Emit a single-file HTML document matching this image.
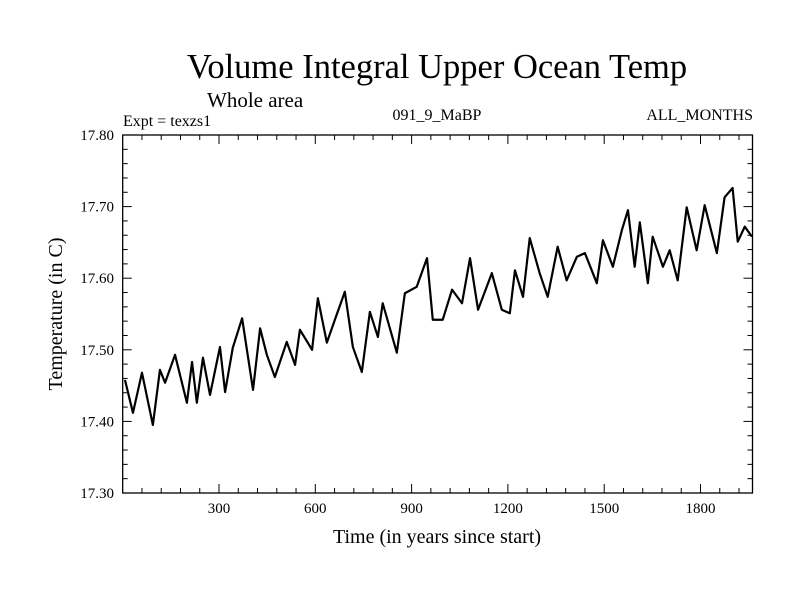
<!DOCTYPE html>
<html><head><meta charset="utf-8"><style>
body{margin:0;background:#fff}
svg text{font-family:"Liberation Serif",serif;fill:#000}
</style></head><body>
<svg id="chart" width="800" height="600">
<text x="437" y="78" font-size="34.5" text-anchor="middle">Volume Integral Upper Ocean Temp</text>
<text x="207" y="107" font-size="21">Whole area</text>
<text x="123" y="126" font-size="16">Expt = texzs1</text>
<text x="437" y="120" font-size="16" text-anchor="middle">091_9_MaBP</text>
<text x="753" y="120" font-size="16" text-anchor="end">ALL_MONTHS</text>
<text x="437" y="543" font-size="20" text-anchor="middle">Time (in years since start)</text>
<text transform="translate(62,314) rotate(-90)" font-size="20" text-anchor="middle">Temperature (in C)</text>
<g id="axes"></g>
<g id="series"></g>
</svg>
<script>
const years=[7,32,60,94,116,132,163,200,216,231,250,272,303,319,343,372,406,428,449,474,511,537,552,590,608,636,661,692,717,745,770,795,810,854,879,916,948,966,997,1026,1057,1082,1107,1150,1181,1206,1222,1247,1268,1299,1324,1355,1383,1415,1440,1477,1496,1527,1555,1574,1595,1611,1636,1651,1683,1704,1729,1757,1788,1813,1851,1875,1900,1916,1938,1960];
const temps=[17.458,17.412,17.468,17.395,17.472,17.454,17.493,17.426,17.483,17.426,17.489,17.437,17.504,17.441,17.503,17.544,17.444,17.530,17.493,17.462,17.511,17.479,17.528,17.500,17.572,17.510,17.542,17.581,17.504,17.469,17.553,17.518,17.565,17.496,17.579,17.588,17.628,17.542,17.542,17.584,17.565,17.628,17.556,17.607,17.556,17.551,17.611,17.574,17.656,17.607,17.574,17.644,17.597,17.630,17.635,17.593,17.653,17.616,17.667,17.695,17.616,17.678,17.593,17.658,17.616,17.639,17.597,17.699,17.639,17.702,17.635,17.713,17.726,17.651,17.672,17.658];
const xTicks=[300,600,900,1200,1500,1800];
const yTicks=[17.30,17.40,17.50,17.60,17.70,17.80];
const X0=122.7,X1=752.5,Y0=493,Y1=135,XMIN=0,XMAX=1962,YMIN=17.30,YMAX=17.80;
const sx=v=>X0+(v-XMIN)/(XMAX-XMIN)*(X1-X0);
const sy=v=>Y0-(v-YMIN)/(YMAX-YMIN)*(Y0-Y1);
const NS='http://www.w3.org/2000/svg';
const axes=document.getElementById('axes');
function mk(t,a,p){const e=document.createElementNS(NS,t);for(const k in a)e.setAttribute(k,a[k]);p.appendChild(e);return e;}
const frame=mk('rect',{x:X0,y:Y1,width:X1-X0,height:Y0-Y1,fill:'none',stroke:'#000','stroke-width':1.3},axes);


for(let v=60;v<XMAX;v+=60){const big=v%300===0,L=big?9:5;
 const t1=mk('line',{x1:sx(v),x2:sx(v),y1:Y0,y2:Y0-L,stroke:'#000'},axes);
 
 
 const t2=mk('line',{x1:sx(v),x2:sx(v),y1:Y1,y2:Y1+L,stroke:'#000'},axes);
 
 }
for(let i=1;i<25;i++){const v=YMIN+i*0.02,big=i%5===0,L=big?9:5;
 const t1=mk('line',{x1:X0,x2:X0+L,y1:sy(v),y2:sy(v),stroke:'#000'},axes);
 
 
 const t2=mk('line',{x1:X1,x2:X1-L,y1:sy(v),y2:sy(v),stroke:'#000'},axes);
 
 }
xTicks.forEach(v=>{const t=mk('text',{x:sx(v),y:Y0+20,'font-size':15,'text-anchor':'middle'},axes);t.textContent=v;
 
 });
yTicks.forEach(v=>{const t=mk('text',{x:114,y:sy(v)+5,'font-size':15,'text-anchor':'end'},axes);t.textContent=v.toFixed(2);
 
 });
const line=mk('polyline',{points:years.map((y,i)=>sx(y)+','+sy(temps[i])).join(' '),fill:'none',stroke:'#000','stroke-width':2.2,'stroke-linejoin':'round'},document.getElementById('series'));


</script>
</body></html>
